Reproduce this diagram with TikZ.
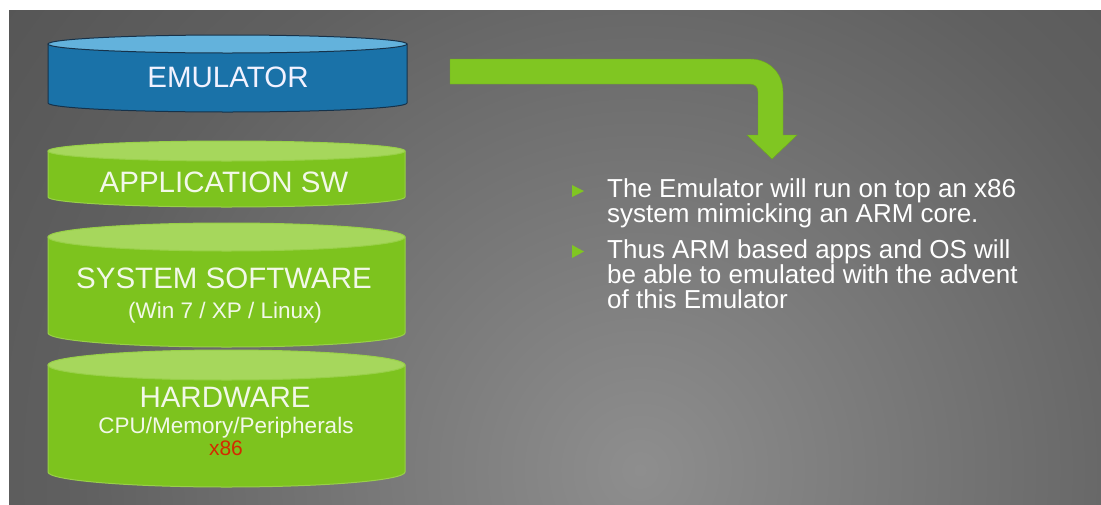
\documentclass[tikz,border=0pt]{standalone}
\usepackage{fontspec}
\setmainfont{Liberation Sans}
\usetikzlibrary{calc}
\definecolor{bgout}{HTML}{424242}
\definecolor{bgmid}{HTML}{606060}
\definecolor{bgin}{HTML}{8E8E8E}
\definecolor{grbody}{HTML}{7DC31E}
\definecolor{grtop}{HTML}{A6D75C}
\definecolor{gredge}{HTML}{98D048}
\definecolor{blbody}{HTML}{1A72A8}
\definecolor{bltop}{HTML}{63B2DC}
\definecolor{bledge}{HTML}{16324A}
\definecolor{arrowgreen}{HTML}{80C622}
\definecolor{txtlight}{HTML}{F2F8E8}
\definecolor{redtxt}{HTML}{D42A00}
\pgfdeclareradialshading{bgshade}{\pgfpoint{0bp}{0bp}}{color(0bp)=(bgin); color(14bp)=(bgmid); color(31bp)=(bgout); color(50bp)=(bgout)}
% #1 cx, #2 rx, #3 ytop, #4 ybot, #5 ry, #6 body, #7 top, #8 edge
\newcommand\drawdrum[8]{%
  \filldraw[fill=#6, draw=#8, line width=1pt]
    ({#1-#2},#3) -- ({#1-#2},#4) arc[start angle=180, end angle=0, x radius=#2, y radius=#5]
    -- ({#1+#2},#3) -- cycle;
  \filldraw[fill=#7, draw=#8, line width=1pt] (#1,#3) ellipse[x radius=#2, y radius=#5];
}
\tikzset{
  title/.style={text=txtlight, font=\fontsize{29.5}{30}\selectfont, anchor=base, inner sep=0pt},
  subtitle/.style={text=txtlight, font=\fontsize{22.5}{23}\selectfont, anchor=base, inner sep=0pt},
  bodytext/.style={text=white, font=\fontsize{26}{25}\selectfont, anchor=base west, inner sep=0pt, align=left},
  bullet/.style={fill=arrowgreen}
}
\begin{document}
\begin{tikzpicture}[x=1pt, y=-1pt]
\useasboundingbox (0,0) rectangle (1101,504);
\fill[white] (0,0) rectangle (1101,504);
\begin{scope}
  \clip (9,10) rectangle (1101,504);
  \fill[bgout] (9,10) rectangle (1101,504);
  \shade[shading=bgshade] (640,470) circle (1000);
\end{scope}

% cylinders
\drawdrum{227.5}{179.5}{44}{103}{9}{blbody}{bltop}{bledge}
\drawdrum{226.5}{178.5}{151}{197}{10}{grbody}{grtop}{gredge}
\drawdrum{226.5}{178.5}{237}{333}{14}{grbody}{grtop}{gredge}
\drawdrum{226.5}{178.5}{365}{472}{15}{grbody}{grtop}{gredge}

\node[title, text=white!95!blue] (emu) at (228,87) {EMULATOR};
\node[title] (app) at (224,192) {APPLICATION SW};
\node[title] (sys) at (224,288) {SYSTEM SOFTWARE};
\node[subtitle] (sysos) at (225,318) {(Win 7 / XP / Linux)};
\node[title] (hw) at (225,407) {HARDWARE};
\node[subtitle] (hwsub) at (226,433) {CPU/Memory/Peripherals};
\node[subtitle, text=redtxt, font=\fontsize{21}{22}\selectfont] (hwarch) at (226,455) {x86};

% bent arrow
\fill[arrowgreen, draw=arrowgreen!85!black, line width=0.4pt]
  (450,59) -- (750,59) .. controls (769,59) and (783,73) .. (783,92)
  -- (783,135) -- (797,135) -- (772,159) -- (747,135) -- (758,135)
  -- (758,92) .. controls (758,87) and (755,84) .. (750,84)
  -- (450,84) -- cycle;

% bullets
\fill[bullet] (572,185) -- (584,191) -- (572,197) -- cycle;
\fill[bullet] (572,245) -- (584,251.5) -- (572,258) -- cycle;

\node[bodytext] (p1) at (607,222) {The Emulator will run on top an x86\\system mimicking an ARM core.};
\node[bodytext] (p2) at (607,308) {Thus ARM based apps and OS will\\be able to emulated with the advent\\of this Emulator};
\end{tikzpicture}
\end{document}
